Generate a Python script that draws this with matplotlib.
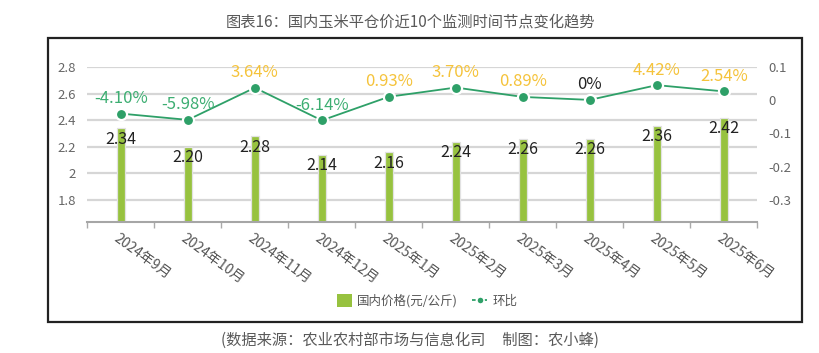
import matplotlib
matplotlib.use("Agg")
import matplotlib.pyplot as plt
from matplotlib.patches import Rectangle, Patch
from matplotlib.lines import Line2D

plt.rcParams['font.family'] = ['Noto Sans CJK SC', 'DejaVu Sans']

categories = ["2024年9月", "2024年10月", "2024年11月", "2024年12月", "2025年1月",
              "2025年2月", "2025年3月", "2025年4月", "2025年5月", "2025年6月"]
price = [2.34, 2.20, 2.28, 2.14, 2.16, 2.24, 2.26, 2.26, 2.36, 2.42]
mom = [-0.0410, -0.0598, 0.0364, -0.0614, 0.0093, 0.0370, 0.0089, 0.0, 0.0442, 0.0254]
mom_labels = ["-4.10%", "-5.98%", "3.64%", "-6.14%", "0.93%", "3.70%", "0.89%", "0%", "4.42%", "2.54%"]
left_ticks = [1.8, 2.0, 2.2, 2.4, 2.6, 2.8]
left_tick_labels = ["1.8", "2", "2.2", "2.4", "2.6", "2.8"]
right_ticks = [-0.3, -0.2, -0.1, 0.0, 0.1]
right_tick_labels = ["-0.3", "-0.2", "-0.1", "0", "0.1"]

W, H = 820, 353
fig = plt.figure(figsize=(W / 100, H / 100), dpi=100)
fig.patch.set_facecolor('white')

# outer frame
fig.patches.append(Rectangle((48 / W, 1 - 321.7 / H), (802 - 48) / W, (321.7 - 38.3) / H,
                             transform=fig.transFigure, fill=False, edgecolor='#222222',
                             linewidth=1.6, zorder=0))

ax = fig.add_axes([87.3 / W, 1 - 221.7 / H, (757.3 - 87.3) / W, (221.7 - 66.5) / H])
ax.set_facecolor('none')
x = list(range(len(categories)))

bar_c = '#97c23f'
line_c = '#2ea068'
green_lbl = '#3dae72'
yellow_lbl = '#f5c33b'

ax.set_xlim(-0.5, len(categories) - 0.5)
ax.set_ylim(1.636, 2.805)
for t in left_ticks:
    ax.axhline(t, color='#d6d6d6', linewidth=1.6, zorder=0)

bars = ax.bar(x, price, width=0.115, color=bar_c, edgecolor='#e2e2e2', linewidth=0.9, zorder=2)
for xi, v in zip(x, price):
    ax.annotate(f"{v:.2f}", (xi, v), xytext=(0, -11), textcoords='offset pixels',
                ha='center', va='center', fontsize=11.5, color='#222222', zorder=5)

ax.set_yticks(left_ticks)
ax.set_yticklabels(left_tick_labels)
ax.tick_params(axis='y', length=0, labelsize=9.5, labelcolor='#666666', pad=8)
ax.set_xticks([i - 0.5 for i in range(len(categories) + 1)], minor=False)
ax.set_xticklabels([])
ax.tick_params(axis='x', length=4, color='#aaaaaa', width=1)
for s in ['top', 'right', 'left']:
    ax.spines[s].set_visible(False)
ax.spines['bottom'].set_color('#a6a6a6')
ax.spines['bottom'].set_linewidth(1.5)

for xi, lab in zip(x, categories):
    ax.text(xi - 0.02, 1.636 - 0.075, lab, rotation=-36, rotation_mode='anchor',
            ha='left', va='top', fontsize=10, color='#555555')

ax2 = ax.twinx()
ax2.set_ylim(-0.3647, 0.0976)
ax2.plot(x, mom, color=line_c, linewidth=1.3, zorder=3,
         marker='o', markersize=8, markerfacecolor=line_c, markeredgecolor='white', markeredgewidth=1.6)
for xi, v, lab in zip(x, mom, mom_labels):
    c = green_lbl if v < 0 else (yellow_lbl if v > 0 else '#222222')
    ax2.annotate(lab, (xi, v), xytext=(0, 15), textcoords='offset pixels',
                 ha='center', va='center', fontsize=12, color=c, zorder=5)
ax2.set_yticks(right_ticks)
ax2.set_yticklabels(right_tick_labels)
ax2.tick_params(axis='y', length=0, labelsize=9.5, labelcolor='#666666', pad=8)
for s in ['top', 'right', 'left', 'bottom']:
    ax2.spines[s].set_visible(False)

handles = [Patch(facecolor=bar_c, edgecolor='none'),
           Line2D([0], [0], color=line_c, linestyle=(0, (2, 1.5)), linewidth=1.3, marker='o',
                  markersize=5, markerfacecolor=line_c, markeredgecolor='white')]
fig.legend(handles, ["国内价格(元/公斤)", "环比"], loc='center', bbox_to_anchor=(427 / W, 1 - 301 / H),
           ncol=2, frameon=False, fontsize=9, labelcolor='#555555', handlelength=1.2,
           handleheight=1.2, columnspacing=1.2, handletextpad=0.4)

fig.text(410 / W, 1 - 22 / H, "图表16：国内玉米平仓价近10个监测时间节点变化趋势",
         ha='center', va='center', fontsize=11, color='#595959')
fig.text(410 / W, 1 - 340 / H, "(数据来源：农业农村部市场与信息化司     制图：农小蜂)",
         ha='center', va='center', fontsize=11, color='#595959')

fig.savefig('out.png', dpi=100, facecolor='white')
